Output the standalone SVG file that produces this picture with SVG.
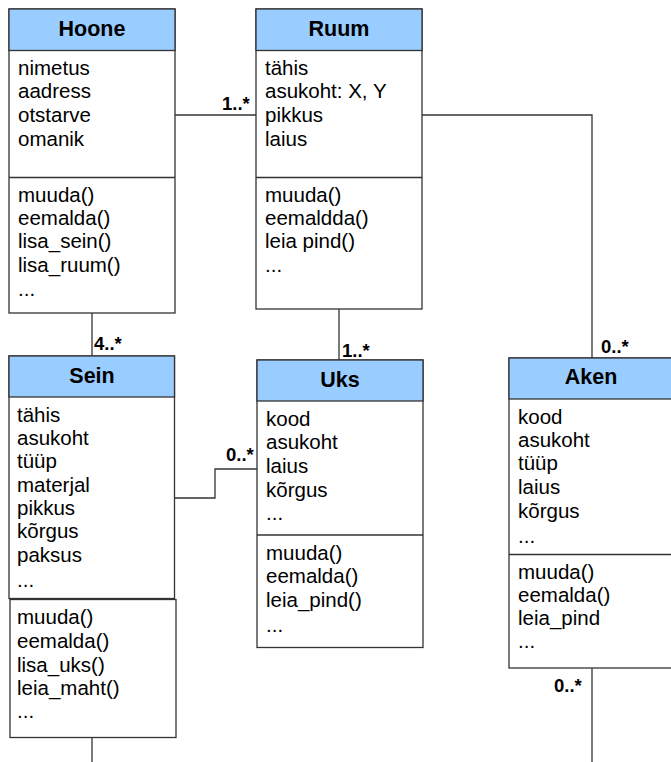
<svg xmlns="http://www.w3.org/2000/svg" width="671" height="762" viewBox="0 0 671 762">
  <style>
    .box { fill: #ffffff; stroke: #333333; stroke-width: 1.3; }
    .head { fill: #99ccff; stroke: #333333; stroke-width: 1.3; }
    .sep { stroke: #333333; stroke-width: 1.3; }
    .title { font-family: "Liberation Sans", Arial, sans-serif; font-size: 21.5px; font-weight: bold; fill: #000000; text-anchor: middle; }
    .item { font-family: "Liberation Sans", Arial, sans-serif; font-size: 20.5px; fill: #000000; }
    .mult { font-family: "Liberation Sans", Arial, sans-serif; font-size: 18.5px; font-weight: bold; fill: #000000; }
    .link { fill: none; stroke: #333333; stroke-width: 1.3; }
  </style>
  <rect width="671" height="762" fill="#ffffff"/>

  <!-- associations -->
  <g id="connectors">
    <path class="link" d="M175,115 H256"/>
    <path class="link" d="M422,115 H592 V358"/>
    <path class="link" d="M92,313 V356"/>
    <path class="link" d="M339,309 V360"/>
    <path class="link" d="M175,498 H215 V469 H257"/>
    <path class="link" d="M92,737 V762"/>
    <path class="link" d="M592,668 V762"/>
    <text class="mult" x="222" y="110">1..*</text>
    <text class="mult" x="601" y="353">0..*</text>
    <text class="mult" x="94" y="350">4..*</text>
    <text class="mult" x="342" y="357">1..*</text>
    <text class="mult" x="226" y="461">0..*</text>
    <text class="mult" x="554" y="692">0..*</text>
  </g>

  <!-- Hoone -->
  <g id="hoone">
    <rect class="box" x="9" y="9" width="166" height="304"/>
    <rect class="head" x="9" y="9" width="166" height="41.5"/>
    <line class="sep" x1="9" y1="177.5" x2="175" y2="177.5"/>
    <text class="title" x="92" y="36">Hoone</text>
    <text class="item" x="18" y="75">nimetus</text>
    <text class="item" x="18" y="98">aadress</text>
    <text class="item" x="18" y="122">otstarve</text>
    <text class="item" x="18" y="146">omanik</text>
    <text class="item" x="18" y="202">muuda()</text>
    <text class="item" x="18" y="225">eemalda()</text>
    <text class="item" x="18" y="248">lisa_sein()</text>
    <text class="item" x="18" y="272">lisa_ruum()</text>
    <text class="item" x="18" y="296">...</text>
  </g>

  <!-- Ruum -->
  <g id="ruum">
    <rect class="box" x="256" y="9" width="166" height="300"/>
    <rect class="head" x="256" y="9" width="166" height="41.5"/>
    <line class="sep" x1="256" y1="177.5" x2="422" y2="177.5"/>
    <text class="title" x="339" y="36">Ruum</text>
    <text class="item" x="265" y="75">tähis</text>
    <text class="item" x="265" y="98">asukoht: X, Y</text>
    <text class="item" x="265" y="122">pikkus</text>
    <text class="item" x="265" y="146">laius</text>
    <text class="item" x="265" y="202">muuda()</text>
    <text class="item" x="265" y="225">eemaldda()</text>
    <text class="item" x="265" y="248">leia pind()</text>
    <text class="item" x="265" y="272">...</text>
  </g>

  <!-- Sein -->
  <g id="sein">
    <rect class="box" x="9" y="356" width="165.5" height="242.5"/>
    <rect class="head" x="9" y="356" width="165.5" height="41"/>
    <rect class="box" x="10" y="599.5" width="166" height="138"/>
    <text class="title" x="92" y="383">Sein</text>
    <text class="item" x="17" y="422">tähis</text>
    <text class="item" x="17" y="445">asukoht</text>
    <text class="item" x="17" y="468">tüüp</text>
    <text class="item" x="17" y="492">materjal</text>
    <text class="item" x="17" y="515">pikkus</text>
    <text class="item" x="17" y="538">kõrgus</text>
    <text class="item" x="17" y="562">paksus</text>
    <text class="item" x="17" y="587">...</text>
    <text class="item" x="17" y="624">muuda()</text>
    <text class="item" x="17" y="648">eemalda()</text>
    <text class="item" x="17" y="672">lisa_uks()</text>
    <text class="item" x="17" y="695">leia_maht()</text>
    <text class="item" x="17" y="718">...</text>
  </g>

  <!-- Uks -->
  <g id="uks">
    <rect class="box" x="257" y="360" width="166" height="287.5"/>
    <rect class="head" x="257" y="360" width="166" height="41"/>
    <line class="sep" x1="257" y1="535" x2="423" y2="535"/>
    <text class="title" x="340" y="387">Uks</text>
    <text class="item" x="266" y="426">kood</text>
    <text class="item" x="266" y="449">asukoht</text>
    <text class="item" x="266" y="473">laius</text>
    <text class="item" x="266" y="497">kõrgus</text>
    <text class="item" x="266" y="520">...</text>
    <text class="item" x="266" y="560">muuda()</text>
    <text class="item" x="266" y="583">eemalda()</text>
    <text class="item" x="266" y="607">leia_pind()</text>
    <text class="item" x="266" y="632">...</text>
  </g>

  <!-- Aken (runs past the right edge) -->
  <g id="aken">
    <rect class="box" x="509" y="358" width="170" height="310"/>
    <rect class="head" x="509" y="358" width="170" height="41"/>
    <line class="sep" x1="509" y1="554.5" x2="679" y2="554.5"/>
    <text class="title" x="591" y="384">Aken</text>
    <text class="item" x="518" y="424">kood</text>
    <text class="item" x="518" y="447">asukoht</text>
    <text class="item" x="518" y="470">tüüp</text>
    <text class="item" x="518" y="494">laius</text>
    <text class="item" x="518" y="518">kõrgus</text>
    <text class="item" x="518" y="543">...</text>
    <text class="item" x="518" y="579">muuda()</text>
    <text class="item" x="518" y="602">eemalda()</text>
    <text class="item" x="518" y="625">leia_pind</text>
    <text class="item" x="518" y="648">...</text>
  </g>
</svg>
